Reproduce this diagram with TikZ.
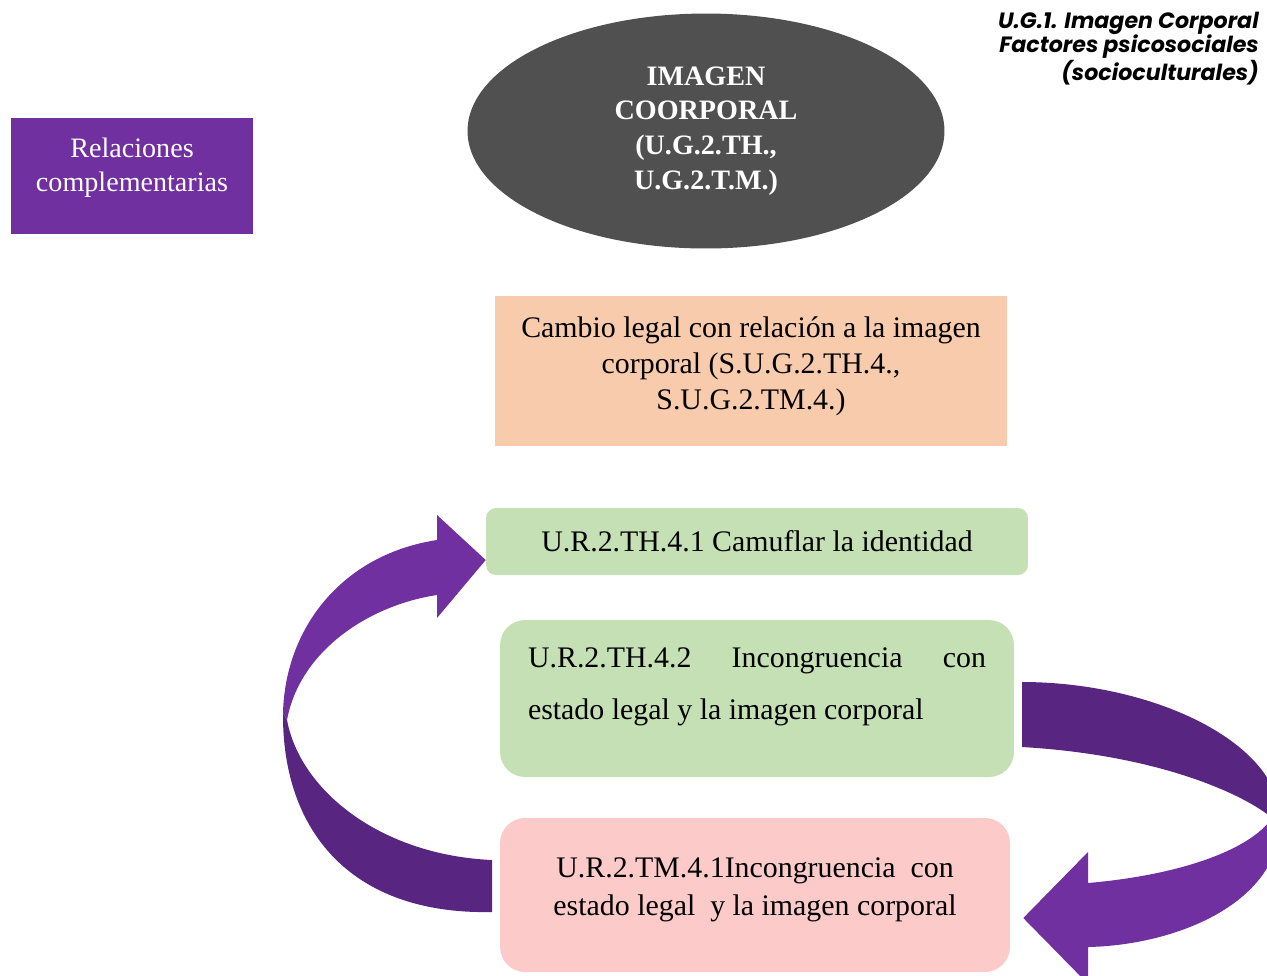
\documentclass[tikz,border=0pt]{standalone}
\usepackage{fontspec}
\setmainfont{Liberation Serif}
\newfontfamily\gothfont{Poppins}
\usetikzlibrary{shapes.geometric}

\definecolor{relpurple}{HTML}{7030A0}
\definecolor{reldark}{HTML}{582680}
\definecolor{ellgray}{HTML}{505050}
\definecolor{cambiofill}{HTML}{F8CBAD}
\definecolor{urgreen}{HTML}{C5E0B4}
\definecolor{urpink}{HTML}{FDCACA}

\tikzset{
  urbox/.style={fill=#1, inner sep=0pt, align=center,
    font=\fontsize{17}{20.4}\selectfont},
}

\begin{document}
\begin{tikzpicture}[x=0.02cm,y=-0.02cm]
\useasboundingbox (0,0) rectangle (1267,975);

% title in the corner
\node [anchor=north east, align=right,
       font=\gothfont\bfseries\itshape\fontsize{12.6}{13.6}\selectfont] (titulo) at (1265,6)
{U.G.1. Imagen Corporal\\Factores psicosociales\\(socioculturales)};

\node [urbox=relpurple, text=white, minimum width=4.84cm, minimum height=2.32cm,
       font=\fontsize{16}{19.3}\selectfont] (relaciones) at (132,176)
{\raisebox{0.16cm}[\height][\depth]{\begin{tabular}{@{}c@{}}Relaciones\\complementarias\end{tabular}}};

\node [ellipse, urbox=ellgray, text=white, minimum width=9.54cm, minimum height=4.7cm,
       font=\fontsize{16}{19.8}\selectfont\bfseries] (imagen) at (706,131)
{IMAGEN\\COORPORAL\\(U.G.2.TH.,\\U.G.2.T.M.)};

\node [urbox=cambiofill, minimum width=10.24cm, minimum height=3cm] (cambio) at (751,371)
{\raisebox{0.1cm}[\height][\depth]{\begin{tabular}{@{}c@{}}Cambio legal con relación a la imagen\\corporal (S.U.G.2.TH.4.,\\S.U.G.2.TM.4.)\end{tabular}}};

\node [urbox=urgreen, rounded corners=0.2cm, minimum width=10.84cm, minimum height=1.34cm] (camuflar) at (757,541.5)
{U.R.2.TH.4.1 Camuflar la identidad};

\node [urbox=urgreen, rounded corners=0.5cm, minimum width=10.28cm, minimum height=3.14cm,
       font=\fontsize{17}{29.5}\selectfont] (incongth) at (757,698.5)
{\raisebox{0.24cm}[\height][\depth]{\parbox{9.16cm}{U.R.2.TH.4.2\hfill Incongruencia\hfill con\\estado legal y la imagen corporal}}};

\node [urbox=urpink, rounded corners=0.5cm, minimum width=10.2cm, minimum height=3.08cm,
       font=\fontsize{17}{21.5}\selectfont] (incongtm) at (755,895)
{\raisebox{0.12cm}[\height][\depth]{\begin{tabular}{@{}c@{}}U.R.2.TM.4.1Incongruencia\ \ con\\estado legal\ \ y la imagen corporal\end{tabular}}};

% left curved arrow, from the pink box up to the first green box
\coordinate (tipizq) at ([yshift=-0.37cm]camuflar.west);
\fill [reldark] (287,720) .. controls (300,790) and (380,855) .. (492,860)
  -- (492,912) .. controls (350,915) and (282,830) .. (283,713) -- cycle;
\fill [relpurple] (283,713) .. controls (285,630) and (340,555) .. (437,540)
  -- (437,515) -- (tipizq) -- (437,618) -- (437,595)
  .. controls (370,605) and (300,650) .. (287,720) -- cycle;

% right curved arrow, from the second green box down to the pink box
\coordinate (tipder) at ([xshift=0.26cm,yshift=-0.46cm]incongtm.east);
\fill [reldark] (1022,682) .. controls (1150,682) and (1275,740) .. (1280,815)
  -- (1272,818) .. controls (1245,795) and (1160,755) .. (1022,747) -- cycle;
\fill [relpurple] (1280,815) .. controls (1285,900) and (1180,945) .. (1088,947)
  -- (1088,984) -- (tipder) -- (1088,852) -- (1088,883)
  .. controls (1180,875) and (1250,850) .. (1272,818) -- cycle;
\end{tikzpicture}
\end{document}
